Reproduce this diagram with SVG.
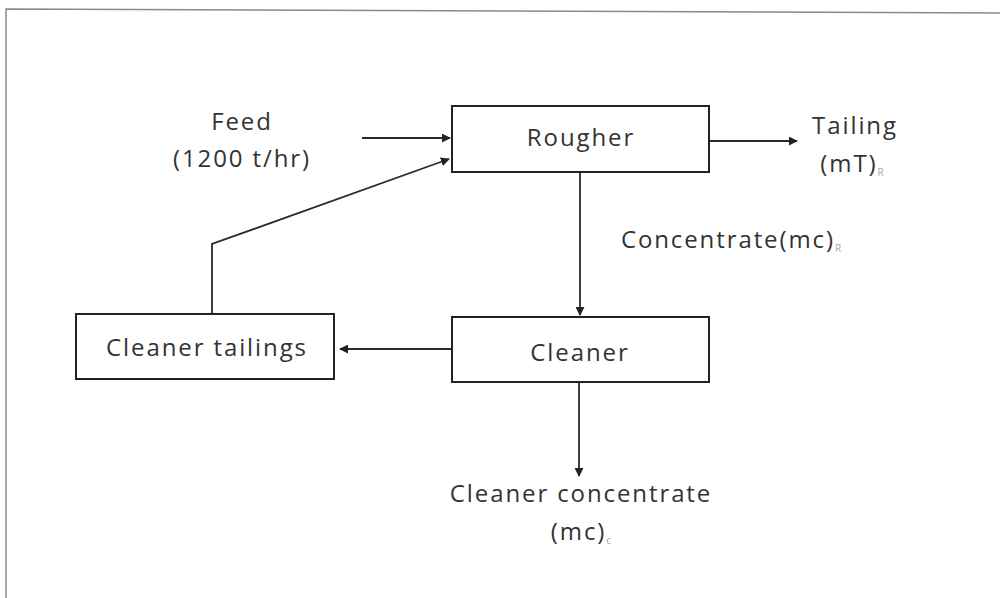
<svg xmlns="http://www.w3.org/2000/svg" width="1000" height="598" viewBox="0 0 1000 598">
  <style>
    .box { fill: #fff; stroke: #222; stroke-width: 2; }
    .ln { fill: none; stroke: #2a2a2a; stroke-width: 1.8; }
    .t { font-family: "Open Sans", "Liberation Sans", sans-serif; font-size: 24px; letter-spacing: 1.9px; fill: #333; text-anchor: middle; }
    .sub { font-size: 10px; letter-spacing: 0; fill: #aaa; }
    .frame { fill: none; stroke: #8a8a8a; stroke-width: 1.5; }
  </style>
  <defs>
    <marker id="ah" viewBox="0 0 10 10" refX="9" refY="5" markerWidth="9" markerHeight="9" markerUnits="userSpaceOnUse" orient="auto">
      <path d="M0,0 L10,5 L0,10 Z" fill="#222"/>
    </marker>
  </defs>
  <rect width="1000" height="598" fill="#fff"/>
  <polyline class="frame" points="6,598 6,9 1000,13"/>

  <g id="connectors">
    <line class="ln" x1="362" y1="138" x2="450" y2="138" marker-end="url(#ah)"/>
    <polyline class="ln" points="212,314 212,244 449,159" marker-end="url(#ah)"/>
    <line class="ln" x1="709" y1="141" x2="797" y2="141" marker-end="url(#ah)"/>
    <line class="ln" x1="580" y1="172" x2="580" y2="315" marker-end="url(#ah)"/>
    <line class="ln" x1="452" y1="349" x2="340" y2="349" marker-end="url(#ah)"/>
    <line class="ln" x1="579" y1="382" x2="579" y2="476" marker-end="url(#ah)"/>
  </g>

  <g id="rougher">
    <rect class="box" x="452" y="106" width="257" height="66"/>
    <text class="t" x="581" y="146">Rougher</text>
  </g>
  <g id="cleaner">
    <rect class="box" x="452" y="317" width="257" height="65"/>
    <text class="t" x="580" y="361">Cleaner</text>
  </g>
  <g id="cleaner-tailings">
    <rect class="box" x="76" y="314" width="258" height="65"/>
    <text class="t" x="207" y="356">Cleaner tailings</text>
  </g>

  <g id="feed">
    <text class="t" x="242" y="130">Feed</text>
    <text class="t" x="242" y="167">(1200 t/hr)</text>
  </g>
  <g id="tailing">
    <text class="t" x="855" y="134">Tailing</text>
    <text class="t" x="852" y="172">(mT)<tspan class="sub" dy="4">R</tspan></text>
  </g>
  <g id="concentrate">
    <text class="t" x="731" y="248">Concentrate(mc)<tspan class="sub" dy="4">R</tspan></text>
  </g>
  <g id="cleaner-concentrate">
    <text class="t" x="581" y="502">Cleaner concentrate</text>
    <text class="t" x="581" y="540">(mc)<tspan class="sub" dy="4">c</tspan></text>
  </g>
</svg>
